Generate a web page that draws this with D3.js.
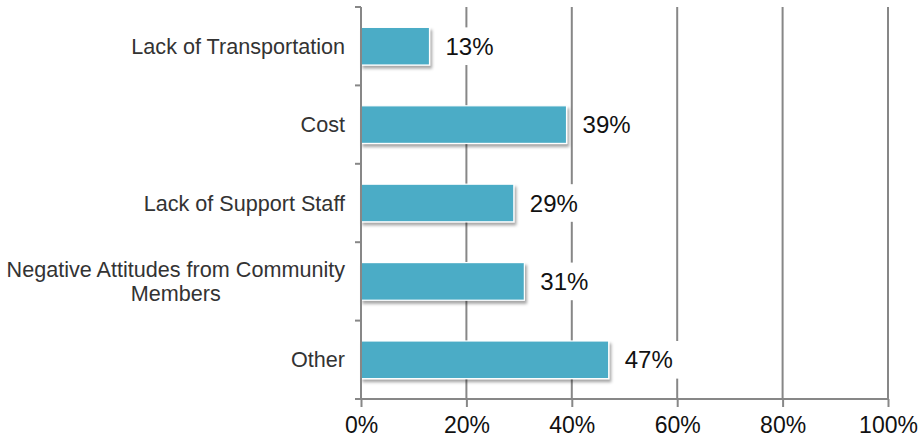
<!DOCTYPE html>
<html>
<head>
<meta charset="utf-8">
<script src="https://cdn.jsdelivr.net/npm/d3@7"></script>
<style>
  html, body { margin: 0; padding: 0; background: #fff; }
  svg { display: block; font-family: Arial, "Liberation Sans", sans-serif; }
</style>
</head>
<body>
<svg id="chart" width="923" height="447"></svg>
<script>
// Barriers reported, share of respondents
const categories = [
  "Lack of Transportation",
  "Cost",
  "Lack of Support Staff",
  "Negative Attitudes from Community Members",
  "Other"
];
const values = [13, 39, 29, 31, 47];
const xTicks = [0, 20, 40, 60, 80, 100];

const svg = d3.select("#chart");
const margin = { left: 361, right: 35, top: 7, bottom: 48 };
const W = 923, H = 447;

const x = d3.scaleLinear().domain([0, 100]).range([margin.left, W - margin.right]);
const y = d3.scaleBand().domain(categories).range([margin.top, H - margin.bottom])
  .paddingInner(0.52).paddingOuter(0.26);

const gray = "#878787";

// soft shadow under the bars
const defs = svg.append("defs");
const f = defs.append("filter").attr("id", "shadow")
  .attr("x", "-5%").attr("y", "-20%").attr("width", "115%").attr("height", "160%");
f.append("feDropShadow").attr("dx", 2).attr("dy", 3).attr("stdDeviation", 1.8)
  .attr("flood-color", "#000").attr("flood-opacity", 0.35);

// vertical gridlines
svg.append("g").selectAll("line").data(xTicks.slice(1)).join("line")
  .attr("x1", d => x(d)).attr("x2", d => x(d))
  .attr("y1", margin.top).attr("y2", H - margin.bottom)
  .attr("stroke", gray).attr("stroke-width", 2);

// bars
svg.append("g").selectAll("rect").data(values).join("rect")
  .attr("x", x(0))
  .attr("y", (d, i) => y(categories[i]))
  .attr("width", d => x(d) - x(0))
  .attr("height", y.bandwidth())
  .attr("fill", "#4BACC6")
  .attr("stroke", "#fff").attr("stroke-width", 1.2)
  .attr("filter", "url(#shadow)");

// value labels on white boxes
const lab = svg.append("g").selectAll("g").data(values).join("g")
  .attr("transform", (d, i) => `translate(${x(d) + 16},${y(categories[i]) + y.bandwidth() / 2})`);
lab.append("rect")
  .attr("x", -6).attr("y", -y.bandwidth() / 2)
  .attr("width", 62).attr("height", y.bandwidth())
  .attr("fill", "#fff");
lab.append("text")
  .attr("dy", "0.36em")
  .attr("font-size", 24).attr("fill", "#111")
  .text(d => d + "%");

// x axis
const xAxis = svg.append("g").attr("transform", `translate(0,${H - margin.bottom})`)
  .call(d3.axisBottom(x).tickValues(xTicks).tickFormat(d => d + "%").tickSize(8).tickSizeOuter(0));
xAxis.select(".domain").attr("stroke", gray).attr("stroke-width", 2)
  .attr("d", `M${x(0) - 6},0H${x(100)}`);
xAxis.selectAll(".tick line").attr("stroke", gray).attr("stroke-width", 2);
xAxis.selectAll(".tick text").attr("font-size", 23).attr("fill", "#111")
  .attr("font-family", "Arial, 'Liberation Sans', sans-serif").attr("dy", "1.02em");

// y axis with ticks at band boundaries
const yAxisG = svg.append("g");
yAxisG.append("line")
  .attr("x1", x(0)).attr("x2", x(0))
  .attr("y1", margin.top).attr("y2", H - margin.bottom)
  .attr("stroke", gray).attr("stroke-width", 2);
const bounds = d3.range(categories.length).map(i => margin.top + i * (H - margin.top - margin.bottom) / categories.length);
yAxisG.selectAll("line.t").data(bounds).join("line").attr("class", "t")
  .attr("x1", x(0) - 6).attr("x2", x(0))
  .attr("y1", d => d).attr("y2", d => d)
  .attr("stroke", gray).attr("stroke-width", 2);

// category labels, wrapped where long
const catLines = {
  "Negative Attitudes from Community Members": ["Negative Attitudes from Community", "Members"]
};
const catG = svg.append("g").selectAll("text").data(categories).join("text")
  .attr("font-size", 21.6).attr("fill", "#333")
  .attr("text-anchor", "middle");
catG.each(function(c) {
  const lines = catLines[c] || [c];
  const t = d3.select(this);
  const cy = y(c) + y.bandwidth() / 2;
  const lh = 24;
  lines.forEach((ln, k) => {
    t.append("tspan").text(ln)
      .attr("y", cy + (k - (lines.length - 1) / 2) * lh).attr("dy", "0.35em");
  });
});
// right-align each block against the axis, centring its lines within it
catG.each(function() {
  const t = d3.select(this);
  const tsp = t.selectAll("tspan").nodes();
  const wMax = d3.max(tsp, n => n.getComputedTextLength());
  const cx = x(0) - 16 - wMax / 2;
  t.selectAll("tspan").attr("x", cx);
});
</script>
</body>
</html>
